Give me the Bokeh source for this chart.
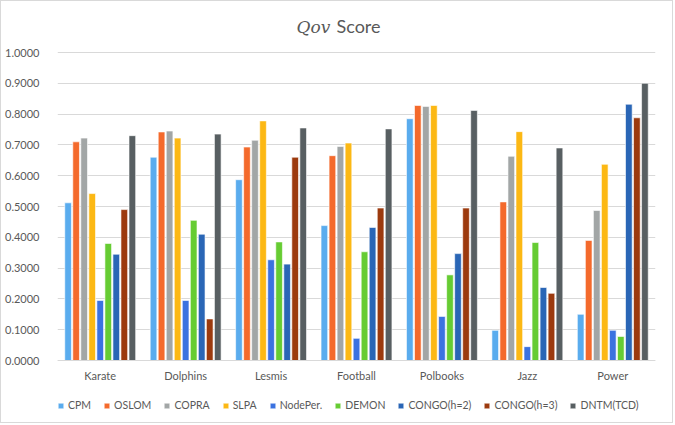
from bokeh.plotting import figure
from bokeh.models import (ColumnDataSource, FactorRange, Legend, LegendItem, Label, Span,
                          FixedTicker, NumeralTickFormatter, Range1d)
from bokeh.transform import dodge
from bokeh.core.properties import value
from bokeh.embed import file_html
from bokeh.resources import INLINE

datasets = ["Karate", "Dolphins", "Lesmis", "Football", "Polbooks", "Jazz", "Power"]
methods = ["CPM", "OSLOM", "COPRA", "SLPA", "NodePer.", "DEMON", "CONGO(h=2)", "CONGO(h=3)", "DNTM(TCD)"]

cpm     = [0.512, 0.660, 0.587, 0.438, 0.785, 0.098, 0.150]
oslom   = [0.710, 0.742, 0.693, 0.665, 0.828, 0.515, 0.390]
copra   = [0.722, 0.745, 0.715, 0.695, 0.825, 0.663, 0.487]
slpa    = [0.542, 0.722, 0.778, 0.706, 0.828, 0.743, 0.637]
nodeper = [0.195, 0.195, 0.327, 0.072, 0.143, 0.045, 0.098]
demon   = [0.380, 0.455, 0.385, 0.353, 0.278, 0.383, 0.078]
congo2  = [0.345, 0.410, 0.313, 0.432, 0.347, 0.237, 0.832]
congo3  = [0.490, 0.135, 0.660, 0.495, 0.495, 0.218, 0.788]
dntm    = [0.730, 0.735, 0.755, 0.752, 0.812, 0.690, 0.900]
yticks  = [0.0, 0.1, 0.2, 0.3, 0.4, 0.5, 0.6, 0.7, 0.8, 0.9, 1.0]

series = [cpm, oslom, copra, slpa, nodeper, demon, congo2, congo3, dntm]
colors = ["#5aacee", "#f46a2c", "#a2a6a6", "#fcb814", "#3b72e0", "#66cc33",
          "#2a66b6", "#9c3a0e", "#585f62"]

src = ColumnDataSource(data=dict(ds=datasets, **{f"s{i}": s for i, s in enumerate(series)}))

W, H, TOP, BASE = 673, 423, 51, 359          # canvas px: size, y=1.0 line, y=0 line
ppu = BASE - TOP
p = figure(x_range=FactorRange(factors=datasets),
           y_range=Range1d(-(H - BASE) / ppu, 1 + TOP / ppu),
           width=W, height=H,
           min_border_left=56, min_border_top=0, min_border_right=19, min_border_bottom=0,
           output_backend="svg", toolbar_location=None)

pitch = 0.094
items = []
for i, (m, c) in enumerate(zip(methods, colors)):
    r = p.vbar(x=dodge("ds", (i - 4) * pitch, range=p.x_range), top=f"s{i}", width=0.078,
               source=src, fill_color=c, line_color="white", line_width=0.6)
    items.append(LegendItem(label=m, renderers=[r]))

font = "Lato"
txt = "#595959"

p.outline_line_color = None
p.xgrid.grid_line_color = None
p.ygrid.grid_line_color = "#d9d9d9"
p.ygrid.grid_line_width = 1

p.yaxis.ticker = FixedTicker(ticks=yticks)
p.yaxis.formatter = NumeralTickFormatter(format="0.0000")
p.yaxis.axis_line_color = None
p.yaxis.major_tick_line_color = None
p.yaxis.minor_tick_line_color = None
p.yaxis.major_label_text_font = font
p.yaxis.major_label_text_font_size = "11px"
p.yaxis.major_label_text_color = txt
p.yaxis.major_label_standoff = 12

p.xaxis.visible = False
p.add_layout(Span(location=0, dimension="width", line_color="#d9d9d9", line_width=1))

p.text(x="ds", y=0, text="ds", source=src, y_offset=15, text_align="center",
       text_baseline="middle", text_font=value(font), text_font_size="11px", text_color=txt)

legend = Legend(items=items, orientation="horizontal", location=(0, 13),
                glyph_width=7, glyph_height=7, label_standoff=4, spacing=12,
                label_text_font=font, label_text_font_size="10.5px", label_text_color=txt,
                border_line_color=None, background_fill_alpha=0, padding=1, margin=0)
p.add_layout(legend, "center")

p.add_layout(Label(x=239, y=H - 35, x_units="screen", y_units="screen", text="Qov",
                   text_font="DejaVu Serif", text_font_style="italic", text_font_size="17px",
                   text_color=txt))
p.add_layout(Label(x=279, y=H - 35, x_units="screen", y_units="screen", text="Score",
                   text_font=font, text_font_size="18px", text_color=txt))

p.styles = {"border": "1px solid #d9d9d9"}

open("out.html", "w").write(file_html(p, INLINE))
